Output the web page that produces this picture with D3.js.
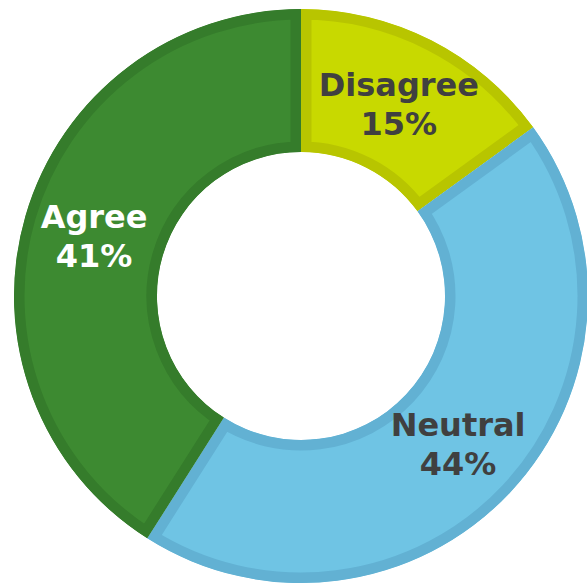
<!DOCTYPE html>
<html>
<head>
<meta charset="utf-8">
<script src="https://cdn.jsdelivr.net/npm/d3@7"></script>
<style>
  html, body { margin: 0; padding: 0; background: #ffffff; }
  svg { display: block; }
</style>
</head>
<body>
<svg id="chart" width="587" height="586"></svg>
<script>
// Survey response shares (percent), clockwise from 12 o'clock
const categories = ["Disagree", "Neutral", "Agree"];
const values = [15, 44, 41];
const fillColors = ["#c8d900", "#6fc4e4", "#3d8a31"];
const edgeColors = ["#b8c500", "#62b1d3", "#357c2b"];
const labelColors = ["#404040", "#404040", "#ffffff"];

const svg = d3.select("#chart");
const cx = 301, cy = 296;
const outerR = 287, innerR = 144;
const edgeWidth = 10.5;

const data = categories.map((c, i) => ({ category: c, value: values[i], i }));

const pie = d3.pie()
  .value(d => d.value)
  .sort(null)
  .startAngle(0)
  .endAngle(2 * Math.PI);

const arc = d3.arc().innerRadius(innerR).outerRadius(outerR);
const arcs = pie(data);

const defs = svg.append("defs");
defs.selectAll("clipPath")
  .data(arcs)
  .join("clipPath")
  .attr("id", d => "clip-" + d.data.i)
  .append("path")
  .attr("d", arc);

const g = svg.append("g").attr("transform", `translate(${cx},${cy})`);

// Each slice: flat fill plus an inner border of a deeper shade
const slices = g.selectAll("g.slice")
  .data(arcs)
  .join("g")
  .attr("class", "slice")
  .attr("clip-path", d => `url(#clip-${d.data.i})`);

slices.append("path")
  .attr("d", arc)
  .attr("fill", d => fillColors[d.data.i])
  .attr("stroke", d => edgeColors[d.data.i])
  .attr("stroke-width", edgeWidth * 2)
  .attr("stroke-linejoin", "miter");

// Two-line labels at each slice centroid
const labels = g.selectAll("text.label")
  .data(arcs)
  .join("text")
  .attr("class", "label")
  .attr("text-anchor", "middle")
  .attr("font-family", "'DejaVu Sans', Verdana, sans-serif")
  .attr("font-weight", "bold")
  .attr("font-size", 32)
  .attr("fill", d => labelColors[d.data.i])
  .attr("transform", d => {
    const [x, y] = arc.centroid(d);
    return `translate(${x},${y})`;
  });

labels.append("tspan")
  .attr("x", 0)
  .attr("y", -8)
  .text(d => d.data.category);

labels.append("tspan")
  .attr("x", 0)
  .attr("y", 31)
  .text(d => d.data.value + "%");
</script>
</body>
</html>
